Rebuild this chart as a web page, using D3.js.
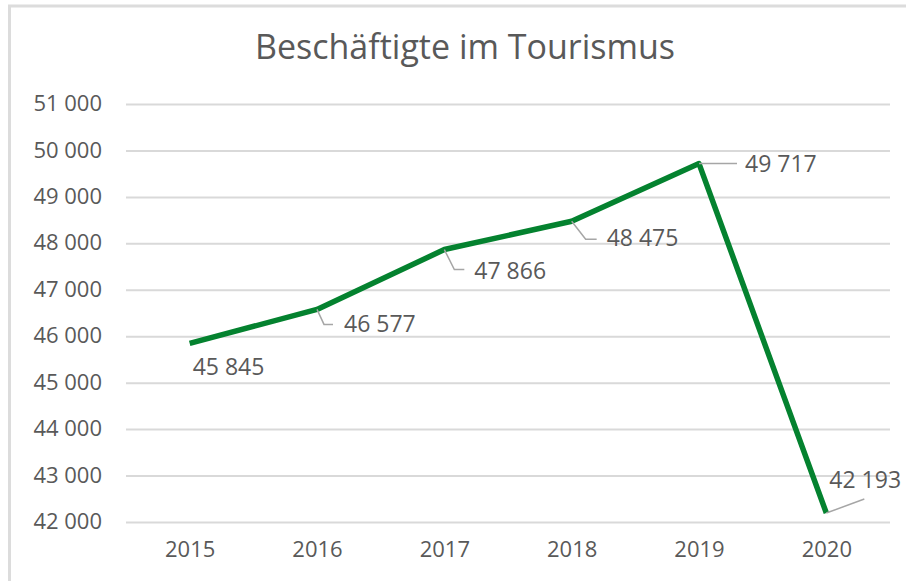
<!DOCTYPE html>
<html>
<head>
<meta charset="utf-8">
<script src="https://cdn.jsdelivr.net/npm/d3@7"></script>
<style>
  body { margin: 0; background: #fff; }
  svg text { font-family: "Open Sans", "Noto Sans", sans-serif; fill: #595959; }
</style>
</head>
<body>
<div id="container"></div>
<script>
const title = "Beschäftigte im Tourismus";
const years = ["2015", "2016", "2017", "2018", "2019", "2020"];
const employees = [45845, 46577, 47866, 48475, 49717, 42193];
const yTicks = [42000, 43000, 44000, 45000, 46000, 47000, 48000, 49000, 50000, 51000];

const w = 906;
const h = 581;
const plotLeft = 126;
const plotRight = 890;
const plotTop = 104;
const plotBottom = 522;

const locale = d3.formatLocale({ decimal: ",", thousands: " ", grouping: [3], currency: ["", " €"] });
const fmt = locale.format(",d");

const svg = d3.select('#container').append('svg')
    .attr('width', w)
    .attr('height', h);

// chart frame
svg.append('rect')
    .attr('x', 9.5)
    .attr('y', 6)
    .attr('width', w + 20)
    .attr('height', h + 20)
    .attr('fill', 'none')
    .attr('stroke', '#dcdcdc')
    .attr('stroke-width', 3);

svg.append('text')
    .attr('x', 465)
    .attr('y', 59)
    .attr('text-anchor', 'middle')
    .attr('font-size', 34)
    .text(title);

const xScale = d3.scalePoint()
    .domain(years)
    .range([plotLeft, plotRight])
    .padding(0.5);

const yScale = d3.scaleLinear()
    .domain([d3.min(yTicks), d3.max(yTicks)])
    .range([plotBottom, plotTop]);

const yAxis = d3.axisLeft(yScale)
    .tickValues(yTicks)
    .tickSize(-(plotRight - plotLeft))
    .tickPadding(24)
    .tickFormat(fmt);

const gy = svg.append('g')
    .attr('transform', `translate(${plotLeft},0)`)
    .call(yAxis);
gy.select('.domain').remove();
gy.selectAll('.tick line').attr('stroke', '#d9d9d9').attr('stroke-width', 2);
gy.selectAll('.tick text')
    .attr('font-size', 22)
    .attr('fill', '#595959')
    .attr('dy', '0.3em');

const xAxis = d3.axisBottom(xScale)
    .tickSize(0)
    .tickPadding(25);

const gx = svg.append('g')
    .attr('transform', `translate(0,${plotBottom})`)
    .call(xAxis);
gx.select('.domain').remove();
gx.selectAll('.tick text')
    .attr('font-size', 22)
    .attr('fill', '#595959')
    .attr('dy', '0.45em');

const points = years.map((y, i) => ({ year: y, value: employees[i] }));

const line = d3.line()
    .x(d => xScale(d.year))
    .y(d => yScale(d.value));

svg.append('path')
    .datum(points)
    .attr('d', line)
    .attr('fill', 'none')
    .attr('stroke', '#04822f')
    .attr('stroke-width', 5.5)
    .attr('stroke-linejoin', 'round');

// label placement as in the original (leader line path + text offset)
const placement = [
    { lead: [], tx: 3, ty: 24 },
    { lead: [[7, 15], [16, 15]], tx: 27, ty: 15 },
    { lead: [[10, 20], [20, 20]], tx: 30, ty: 21 },
    { lead: [[14, 18], [25, 18]], tx: 35, ty: 17 },
    { lead: [[38, 0]], tx: 46, ty: 0 },
    { lead: [[38, -14]], tx: 3, ty: -33 }
];

points.forEach((d, i) => {
    const px = xScale(d.year);
    const py = yScale(d.value);
    const p = placement[i];
    if (p.lead.length) {
        const pts = [[px, py]].concat(p.lead.map(o => [px + o[0], py + o[1]]));
        svg.append('path')
            .attr('d', d3.line()(pts))
            .attr('fill', 'none')
            .attr('stroke', '#a6a6a6')
            .attr('stroke-width', 1.5);
    }
    svg.append('text')
        .attr('x', px + p.tx)
        .attr('y', py + p.ty)
        .attr('dy', '0.35em')
        .attr('font-size', 23)
        .text(fmt(d.value));
});
</script>
</body>
</html>
